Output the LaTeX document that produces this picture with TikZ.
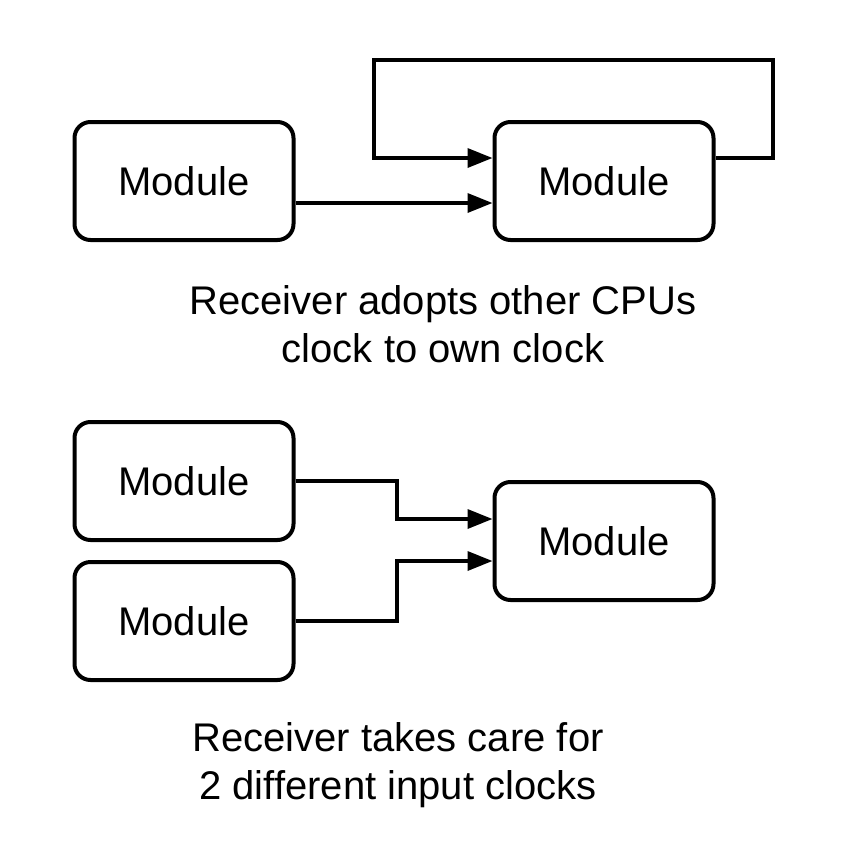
\documentclass[tikz,border=0pt]{standalone}
\usepackage{fontspec}
\setmainfont{Liberation Sans}
\usetikzlibrary{arrows.meta}
\begin{document}
\begin{tikzpicture}[x=1pt,y=-1pt,
  mod/.style={draw,line width=4pt,rounded corners=16pt,minimum width=219pt,minimum height=118pt,font=\fontsize{40}{48}\selectfont,inner sep=0pt},
  conn/.style={line width=3.5pt,-{Triangle[length=25pt,width=19pt]}},
  captext/.style={font=\fontsize{40}{48}\selectfont,align=center}]
\useasboundingbox (0,0) rectangle (860,860);
\node[mod] (a) at (184,181) {Module};
\node[mod] (b) at (604,181) {Module};
\node[captext] (t1) at (443,324) {Receiver adopts other CPUs\\clock to own clock};
\node[mod] (c) at (184,481) {Module};
\node[mod] (d) at (184,621) {Module};
\node[mod] (e) at (604,541) {Module};
\node[captext] (t2) at (398,765) {Receiver takes care for\\2 different input clocks};
\draw[conn] (a.east |- 0,203) -- (b.west |- 0,203);
\draw[conn,line join=miter] (b.east |- 0,158) -- (773,158) -- (773,60) -- (374,60) -- (374,158) -- (b.west |- 0,158);
\draw[conn] (c.east) -- (397,481) -- (397,519) -- (e.west |- 0,519);
\draw[conn] (d.east) -- (397,621) -- (397,561) -- (e.west |- 0,561);
\end{tikzpicture}
\end{document}
